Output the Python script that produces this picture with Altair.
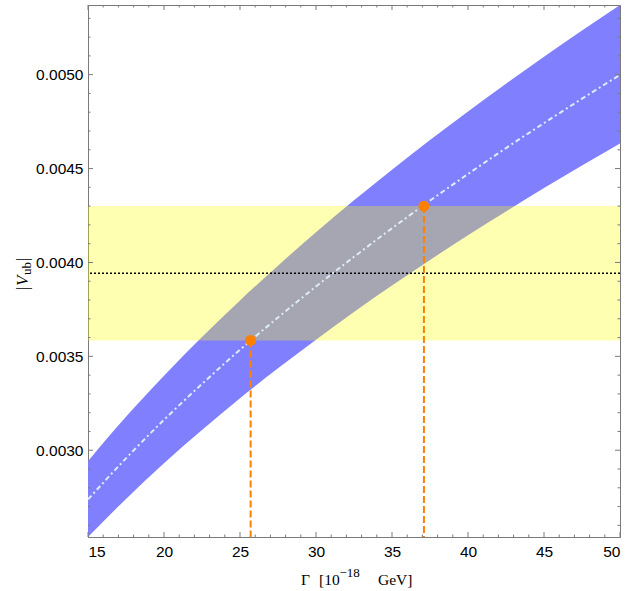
import altair as alt
import pandas as pd

# ---- data ----
gamma = [15, 17.5, 20, 22.5, 25, 27.5, 30, 32.5, 35, 37.5, 40, 42.5, 45, 47.5, 50]
v_lower = [0.002538, 0.002741, 0.002931, 0.003108, 0.003277, 0.003436, 0.003589, 0.003736,
           0.003877, 0.004013, 0.004145, 0.004272, 0.004396, 0.004516, 0.004634]
v_upper = [0.002942, 0.003178, 0.003397, 0.003603, 0.003798, 0.003983, 0.004161, 0.004331,
           0.004494, 0.004652, 0.004804, 0.004952, 0.005096, 0.005235, 0.005371]
v_center = [0.002738, 0.002957, 0.003162, 0.003353, 0.003535, 0.003707, 0.003872, 0.004030,
            0.004182, 0.004329, 0.004471, 0.004609, 0.004742, 0.004872, 0.004999]

vub_exp = [0.003943]
vub_lo = [0.003585]
vub_hi = [0.004300]

point_gamma = [25.7, 37.1]
point_vub = [0.003585, 0.004300]

x_major = [15, 20, 25, 30, 35, 40, 45, 50]
x_minor = [g for g in range(15, 51) if g not in x_major]
y_major = [0.0030, 0.0035, 0.0040, 0.0045, 0.0050]
y_minor = [round(0.0026 + 0.0001 * i, 4) for i in range(28)]
y_minor = [v for v in y_minor if all(abs(v - m) > 1e-9 for m in y_major)]

X_DOMAIN = [15, 50]
Y_DOMAIN = [0.002538, 0.005371]
W, H = 532, 532
FRAME = "#7a7a7a"

band = pd.DataFrame({"g": gamma, "lo": v_lower, "hi": v_upper, "c": v_center})
xs = alt.Scale(domain=X_DOMAIN, nice=False, zero=False)
ys = alt.Scale(domain=Y_DOMAIN, nice=False, zero=False)

x_axis = alt.Axis(values=x_major, format="d", ticks=False, grid=False, title=None,
                  labelFont="Liberation Sans", labelFontSize=15.5, labelColor="black",
                  labelPadding=7, domainColor=FRAME)
y_axis = alt.Axis(values=y_major, format=".4f", ticks=False, grid=False, title=None,
                  labelFont="Liberation Sans", labelFontSize=15.5, labelColor="black",
                  labelPadding=5, domainColor=FRAME)

blue = alt.Chart(band).mark_area(color="#8080FF", opacity=1, interpolate="monotone").encode(
    x=alt.X("g:Q", scale=xs, axis=x_axis),
    y=alt.Y("lo:Q", scale=ys, axis=y_axis),
    y2="hi:Q",
)

yellow = alt.Chart(pd.DataFrame({"lo": vub_lo, "hi": vub_hi, "x1": [X_DOMAIN[0]], "x2": [X_DOMAIN[1]]})).mark_rect(
    color="#FFFF00", opacity=0.3).encode(
    x=alt.X("x1:Q", scale=xs), x2="x2:Q",
    y=alt.Y("lo:Q", scale=ys), y2="hi:Q",
)

center = alt.Chart(band).mark_line(color="#DDEBFA", strokeWidth=2, strokeDash=[5, 3, 2, 3],
                                   interpolate="monotone").encode(
    x=alt.X("g:Q", scale=xs), y=alt.Y("c:Q", scale=ys))

dotted = alt.Chart(pd.DataFrame({"v": vub_exp})).mark_rule(color="black", strokeWidth=1.5,
                                                            strokeDash=[2, 2]).encode(
    y=alt.Y("v:Q", scale=ys))

pts = pd.DataFrame({"g": point_gamma, "v": point_vub})
vrules = alt.Chart(pts).mark_rule(color="#FF8000", strokeWidth=2, strokeDash=[7, 3]).encode(
    x=alt.X("g:Q", scale=xs), y=alt.Y("v:Q", scale=ys), y2=alt.value(H))
dots = alt.Chart(pts).mark_point(filled=True, color="#FF8000", size=120, opacity=1).encode(
    x=alt.X("g:Q", scale=xs), y=alt.Y("v:Q", scale=ys))

def xticks(vals, length):
    d = pd.DataFrame({"g": vals})
    bot = alt.Chart(d).mark_rule(color=FRAME, strokeWidth=1).encode(
        x=alt.X("g:Q", scale=xs), y=alt.value(H), y2=alt.value(H - length))
    top = alt.Chart(d).mark_rule(color=FRAME, strokeWidth=1).encode(
        x=alt.X("g:Q", scale=xs), y=alt.value(0), y2=alt.value(length))
    return bot + top

def yticks(vals, length):
    d = pd.DataFrame({"v": vals})
    left = alt.Chart(d).mark_rule(color=FRAME, strokeWidth=1).encode(
        y=alt.Y("v:Q", scale=ys), x=alt.value(0), x2=alt.value(length))
    right = alt.Chart(d).mark_rule(color=FRAME, strokeWidth=1).encode(
        y=alt.Y("v:Q", scale=ys), x=alt.value(W), x2=alt.value(W - length))
    return left + right

ticks = xticks(x_major, 5) + xticks(x_minor, 2.5) + yticks(y_major, 5) + yticks(y_minor, 2.5)

def label(text, x, y, size, angle=0, italic=False, align="left"):
    kw = dict(text=text, font="Liberation Serif", fontSize=size, align=align,
              baseline="alphabetic", color="black")
    if angle:
        kw["angle"] = angle
    if italic:
        kw["fontStyle"] = "italic"
    return alt.Chart(pd.DataFrame({"a": [0]})).mark_text(**kw).encode(
        x=alt.value(x), y=alt.value(y))

titles = (
    label("Γ", 213, 580, 15.5)
    + label("[10", 231, 580, 15.5)
    + label("−18", 251.5, 572, 13)
    + label("GeV]", 290, 580, 15.5)
    + label("|", -60, 285, 17, angle=270)
    + label("V", -60, 281, 17, angle=270, italic=True)
    + label("ub", -57.5, 270, 13, angle=270)
    + label("|", -60, 256, 17, angle=270)
)

chart = alt.layer(blue, yellow, center, dotted, vrules, dots, ticks, titles).properties(
    width=W, height=H,
    autosize=alt.AutoSizeParams(type="none"),
    padding={"left": 88, "top": 5, "right": 7, "bottom": 54},
).configure_view(stroke=FRAME, strokeWidth=1).configure_axis(domainWidth=1)

chart.save("out.html", embed_options={"renderer": "svg", "actions": False})
